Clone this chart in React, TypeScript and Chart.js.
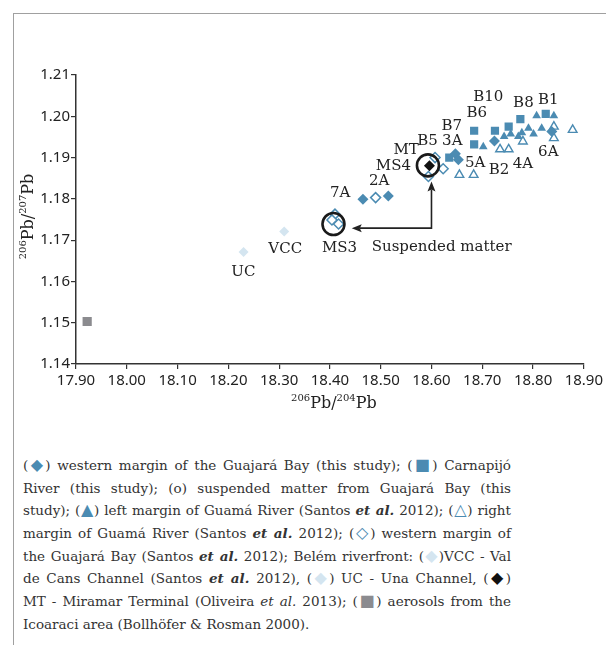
import React, { useEffect, useRef } from 'react';
import { Chart, registerables } from 'chart.js';

Chart.register(...registerables);

// ---------- data ----------
const X_TICKS = [17.9, 18.0, 18.1, 18.2, 18.3, 18.4, 18.5, 18.6, 18.7, 18.8, 18.9];
const Y_TICKS = [1.14, 1.15, 1.16, 1.17, 1.18, 1.19, 1.2, 1.21];

// western margin of the Guajará Bay (this study) – filled diamonds
const WESTERN_THIS_STUDY = [
  [18.465, 1.1799], [18.515, 1.1807], [18.647, 1.1909], [18.653, 1.1895],
  [18.724, 1.194], [18.837, 1.1963],
];
// Carnapijó River (this study) – filled squares
const CARNAPIJO = [
  [18.635, 1.19], [18.684, 1.1965], [18.684, 1.1932], [18.725, 1.1965],
  [18.752, 1.1975], [18.775, 1.1993], [18.825, 1.2006],
];
// left margin of Guamá River (Santos et al. 2012) – filled triangles
const GUAMA_LEFT = [
  [18.702, 1.1926], [18.743, 1.1951], [18.756, 1.1957], [18.771, 1.1951],
  [18.778, 1.196], [18.791, 1.1971], [18.801, 1.1957], [18.817, 1.1971],
  [18.807, 1.2001], [18.841, 1.2001],
];
// right margin of Guamá River (Santos et al. 2012) – open triangles
const GUAMA_RIGHT = [
  [18.655, 1.1858], [18.683, 1.1858], [18.735, 1.192], [18.752, 1.192],
  [18.78, 1.1939], [18.841, 1.1975], [18.841, 1.1947], [18.878, 1.1967],
];
// western margin of the Guajará Bay (Santos et al. 2012) – open diamonds
const WESTERN_SANTOS = [
  [18.41, 1.1763], [18.404, 1.1749], [18.417, 1.1739], [18.49, 1.1803],
  [18.594, 1.1854], [18.607, 1.19], [18.623, 1.1873],
];
// Belém riverfront: VCC and UC – light diamonds
const RIVERFRONT = [[18.31, 1.1721], [18.23, 1.1671]];
// MT – Miramar Terminal (Oliveira et al. 2013) – black diamond
const MIRAMAR = [[18.596, 1.188]];
// aerosols from the Icoaraci area – grey square
const AEROSOLS = [[17.922, 1.1503]];
// suspended matter (this study) – open circles
const SUSPENDED = [[18.407, 1.1739], [18.593, 1.1881]];

// point labels: text, x, y (data units)
const LABEL_TEXT = ['B10', 'B6', 'B8', 'B1', 'B7', 'B5', '3A', 'MT', 'MS4', '5A', 'B2', '4A', '6A', '2A', '7A', 'MS3', 'UC', 'VCC', 'Suspended matter'];
const LABEL_X = [18.712, 18.689, 18.781, 18.83, 18.64, 18.592, 18.641, 18.55, 18.525, 18.686, 18.733, 18.78, 18.83, 18.497, 18.42, 18.419, 18.2295, 18.312, 18.62];
const LABEL_Y = [1.2047, 1.2007, 1.2033, 1.2039, 1.1975, 1.194, 1.194, 1.1918, 1.188, 1.1886, 1.187, 1.1885, 1.1914, 1.1842, 1.1815, 1.168, 1.1622, 1.1679, 1.1684];

// arrow path: corner, tip up, tip left
const ARROW_CORNER = [18.6, 1.1729];
const ARROW_TIP_UP = [18.6, 1.1842];
const ARROW_TIP_LEFT = [18.443, 1.1729];

// ---------- styles ----------
const BLUE = '#4b8bb2';
const LIGHT = '#d4e5f0';
const GREY = '#8b8b8f';
const INK = '#222';
const LABEL_FONT = '15px "DejaVu Serif"';

const toPts = (a: number[][]) => a.map(([x, y]) => ({ x, y }));

const annotations = {
  id: 'annotations',
  afterDatasetsDraw(chart: any) {
    const { ctx, scales } = chart;
    const xs = scales.x, ys = scales.y;
    ctx.save();
    ctx.fillStyle = INK;
    ctx.font = LABEL_FONT;
    ctx.textAlign = 'center';
    ctx.textBaseline = 'middle';
    LABEL_TEXT.forEach((t, i) => {
      ctx.fillText(t, xs.getPixelForValue(LABEL_X[i]), ys.getPixelForValue(LABEL_Y[i]));
    });
    // arrows
    const cx = xs.getPixelForValue(ARROW_CORNER[0]);
    const cy = ys.getPixelForValue(ARROW_CORNER[1]);
    const ux = xs.getPixelForValue(ARROW_TIP_UP[0]);
    const uy = ys.getPixelForValue(ARROW_TIP_UP[1]);
    const lx = xs.getPixelForValue(ARROW_TIP_LEFT[0]);
    const ly = ys.getPixelForValue(ARROW_TIP_LEFT[1]);
    ctx.strokeStyle = INK;
    ctx.lineWidth = 1.6;
    ctx.beginPath();
    ctx.moveTo(ux, uy + 8);
    ctx.lineTo(cx, cy);
    ctx.lineTo(lx + 8, ly);
    ctx.stroke();
    ctx.beginPath();
    ctx.moveTo(ux, uy);
    ctx.lineTo(ux - 4, uy + 10);
    ctx.lineTo(ux, uy + 8);
    ctx.lineTo(ux + 4, uy + 10);
    ctx.closePath();
    ctx.fill();
    ctx.beginPath();
    ctx.moveTo(lx, ly);
    ctx.lineTo(lx + 10, ly - 4);
    ctx.lineTo(lx + 8, ly);
    ctx.lineTo(lx + 10, ly + 4);
    ctx.closePath();
    ctx.fill();

    // axis titles with superscripts
    const drawTitle = (parts: [string, boolean][], cxp: number, cyp: number, rot: number) => {
      const big = '16px "DejaVu Serif"';
      const small = '10px "DejaVu Serif"';
      let w = 0;
      parts.forEach(([s, sup]) => { ctx.font = sup ? small : big; w += ctx.measureText(s).width; });
      ctx.save();
      ctx.translate(cxp, cyp);
      ctx.rotate(rot);
      ctx.textAlign = 'left';
      ctx.textBaseline = 'alphabetic';
      let x = -w / 2;
      parts.forEach(([s, sup]) => {
        ctx.font = sup ? small : big;
        ctx.fillText(s, x, sup ? -1 : 6);
        x += ctx.measureText(s).width;
      });
      ctx.restore();
    };
    const area = chart.chartArea;
    drawTitle([['206', true], ['Pb/', false], ['204', true], ['Pb', false]], (area.left + area.right) / 2 + 4, 402, 0);
    drawTitle([['206', true], ['Pb/', false], ['207', true], ['Pb', false]], 27, (area.top + area.bottom) / 2 - 3, -Math.PI / 2);
    ctx.restore();
  },
};

function ChartCanvas() {
  const ref = useRef<HTMLCanvasElement | null>(null);
  useEffect(() => {
    if (!ref.current) return;
    const tickFont = { family: '"Noto Sans"', size: 15 };
    const chart = new Chart(ref.current, {
      type: 'scatter',
      data: {
        datasets: [
          { label: 'suspended', data: toPts(SUSPENDED), pointStyle: 'circle', pointRadius: 11, borderWidth: 2.6, borderColor: '#1a1a1a', backgroundColor: 'rgba(0,0,0,0)' },
          { label: 'MT', data: toPts(MIRAMAR), pointStyle: 'rectRot', pointRadius: 5.5, borderWidth: 0, backgroundColor: '#111' },
          { label: 'western santos', data: toPts(WESTERN_SANTOS), pointStyle: 'rectRot', pointRadius: 5, borderWidth: 1.5, borderColor: BLUE, backgroundColor: '#fff' },
          { label: 'western', data: toPts(WESTERN_THIS_STUDY), pointStyle: 'rectRot', pointRadius: 5.5, borderWidth: 0, backgroundColor: BLUE },
          { label: 'carnapijo', data: toPts(CARNAPIJO), pointStyle: 'rect', pointRadius: 5.8, borderWidth: 0, backgroundColor: BLUE },
          { label: 'guama left', data: toPts(GUAMA_LEFT), pointStyle: 'triangle', pointRadius: 5, borderWidth: 0, backgroundColor: BLUE },
          { label: 'guama right', data: toPts(GUAMA_RIGHT), pointStyle: 'triangle', pointRadius: 5, borderWidth: 1.4, borderColor: BLUE, backgroundColor: '#fff' },
          { label: 'riverfront', data: toPts(RIVERFRONT), pointStyle: 'rectRot', pointRadius: 5, borderWidth: 0, backgroundColor: LIGHT },
          { label: 'aerosols', data: toPts(AEROSOLS), pointStyle: 'rect', pointRadius: 6.5, borderWidth: 0, backgroundColor: GREY },
        ] as any,
      },
      options: {
        animation: false,
        responsive: true,
        maintainAspectRatio: false,
        layout: { padding: { left: 0, right: 22, top: 75, bottom: 0 } },
        plugins: { legend: { display: false }, tooltip: { enabled: false } },
        scales: {
          x: {
            type: 'linear',
            min: 17.9,
            max: 18.9,
            afterBuildTicks: (s: any) => { s.ticks = X_TICKS.map((v) => ({ value: v })); },
            afterFit: (s: any) => { s.height = 56; },
            grid: { display: true, drawOnChartArea: false, drawTicks: true, tickLength: 5, color: '#333', lineWidth: 1.2 },
            border: { display: true, color: '#333', width: 1.5 },
            ticks: { font: tickFont, color: INK, padding: 3, maxRotation: 0, autoSkip: false, callback: (v: any) => Number(v).toFixed(2) },
          },
          y: {
            type: 'linear',
            min: 1.14,
            max: 1.21,
            afterBuildTicks: (s: any) => { s.ticks = Y_TICKS.map((v) => ({ value: v })); },
            afterFit: (s: any) => { s.width = 76; },
            grid: { display: true, drawOnChartArea: false, drawTicks: true, tickLength: 5, color: '#333', lineWidth: 1.2 },
            border: { display: true, color: '#333', width: 1.5 },
            ticks: { font: tickFont, color: INK, padding: 1, autoSkip: false, callback: (v: any) => Number(v).toFixed(2) },
          },
        },
      } as any,
      plugins: [annotations],
    });
    return () => chart.destroy();
  }, []);
  return (
    <div style={{ position: 'absolute', left: 0, top: 0, width: 606, height: 420 }}>
      <canvas ref={ref} />
    </div>
  );
}

const sym = (ch: string, color: string) => (
  <span style={{ color, fontFamily: '"DejaVu Sans"', fontSize: 16 }}>{ch}</span>
);
const etal = (bold: boolean) => (
  <span style={{ fontStyle: 'italic', fontWeight: bold ? 'bold' : 'normal' }}>et al.</span>
);

const CAPTION_LINES: React.ReactNode[] = [
  <>({sym('◆', BLUE)}) western margin of the Guajará Bay (this study); ({sym('■', BLUE)}) Carnapijó</>,
  <>River (this study); (o) suspended matter from Guajará Bay (this</>,
  <>study); ({sym('▲', BLUE)}) left margin of Guamá River (Santos {etal(true)} 2012); ({sym('△', BLUE)}) right</>,
  <>margin of Guamá River (Santos {etal(true)} 2012); ({sym('◇', BLUE)}) western margin of</>,
  <>the Guajará Bay (Santos {etal(true)} 2012); Belém riverfront: ({sym('◆', LIGHT)})VCC - Val</>,
  <>de Cans Channel (Santos {etal(true)} 2012), ({sym('◆', LIGHT)}) UC - Una Channel, ({sym('◆', '#111')})</>,
  <>MT - Miramar Terminal (Oliveira {etal(false)} 2013); ({sym('■', GREY)}) aerosols from the</>,
  <>Icoaraci area (Bollhöfer &amp; Rosman 2000).</>,
];

export default function App() {
  return (
    <div style={{ position: 'absolute', left: 0, top: 0, width: 606, height: 645, background: '#fff', overflow: 'hidden' }}>
      <div style={{ position: 'absolute', left: 13, top: 13, width: 700, height: 700, borderTop: '1px solid #a0a0a0', borderLeft: '1px solid #a0a0a0' }} />
      <ChartCanvas />
      <div style={{ position: 'absolute', left: 23, top: 454, width: 488, fontFamily: '"DejaVu Serif"', fontSize: 13.5, color: '#333' }}>
        {CAPTION_LINES.map((ln, i) => (
          <div key={i} style={{ height: 22.7, lineHeight: '22.7px', textAlign: 'justify', textAlignLast: i === CAPTION_LINES.length - 1 ? 'left' : 'justify', whiteSpace: 'normal', overflow: 'visible' } as any}>
            {ln}
          </div>
        ))}
      </div>
    </div>
  );
}
